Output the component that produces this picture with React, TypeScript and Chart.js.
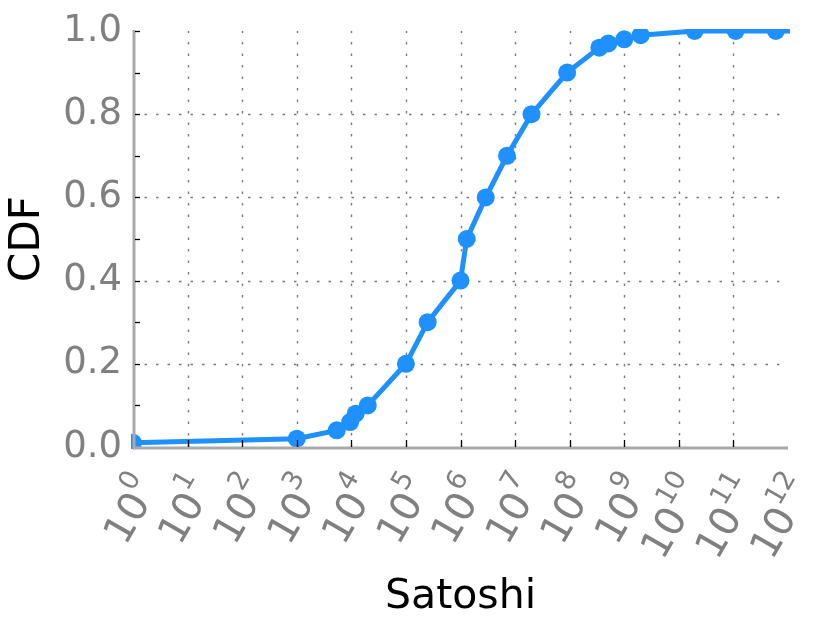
import React, { useEffect, useRef } from 'react';
import { Chart, registerables } from 'chart.js';

Chart.register(...registerables);

// Data (x in satoshi, log scale; y = CDF)
const satoshi = [
  1, 1e3, 5.4e3, 9.5e3, 1.2e4, 2.0e4, 1e5, 2.5e5, 1e6, 1.3e6, 2.9e6, 7.1e6,
  2.0e7, 9.0e7, 3.5e8, 5.1e8, 1.0e9, 2.0e9, 1.95e10, 1.1e11, 6.0e11, 2.0e12,
];
const cdf = [
  0.01, 0.02, 0.04, 0.06, 0.08, 0.1, 0.2, 0.3, 0.4, 0.5, 0.6, 0.7, 0.8, 0.9,
  0.96, 0.97, 0.98, 0.99, 1.0, 1.0, 1.0, 1.0,
];
const xExponents = [0, 1, 2, 3, 4, 5, 6, 7, 8, 9, 10, 11, 12];
const yMajorTicks = [0, 0.2, 0.4, 0.6, 0.8, 1.0];
const yMinorTicks = [0.1, 0.3, 0.5, 0.7, 0.9];
const xTitle = 'Satoshi';
const yTitle = 'CDF';

const FONT = '"DejaVu Sans", "Noto Sans", sans-serif';
const LINE_COLOR = '#1e90ff';
const TICK_GRAY = '#808080';

const decorPlugin = {
  id: 'decor',
  beforeDatasetsDraw(chart: any) {
    const { ctx, chartArea, scales } = chart;
    const x = scales.x;
    const y = scales.y;
    ctx.save();
    ctx.strokeStyle = '#7a7a7a';
    ctx.lineWidth = 1.4;
    ctx.setLineDash([2.5, 9]);
    xExponents.forEach((e) => {
      if (e === xExponents[0] || e === xExponents[xExponents.length - 1]) return;
      const px = Math.round(x.getPixelForValue(Math.pow(10, e))) + 0.5;
      ctx.beginPath();
      ctx.moveTo(px, chartArea.bottom);
      ctx.lineTo(px, chartArea.top);
      ctx.stroke();
    });
    yMajorTicks.forEach((v) => {
      if (v === yMajorTicks[0] || v === yMajorTicks[yMajorTicks.length - 1]) return;
      const py = Math.round(y.getPixelForValue(v)) + 0.5;
      ctx.beginPath();
      ctx.moveTo(chartArea.left, py);
      ctx.lineTo(chartArea.right, py);
      ctx.stroke();
    });
    ctx.restore();
  },
  afterDatasetsDraw(chart: any) {
    const { ctx, chartArea, scales } = chart;
    const x = scales.x;
    const y = scales.y;
    ctx.save();
    ctx.strokeStyle = '#aaaaaa';
    ctx.lineWidth = 3;
    ctx.beginPath();
    ctx.moveTo(chartArea.left + 1, chartArea.top - 1);
    ctx.lineTo(chartArea.left + 1, chartArea.bottom + 1);
    ctx.lineTo(chartArea.right, chartArea.bottom + 1);
    ctx.stroke();
    ctx.strokeStyle = '#000';
    ctx.lineWidth = 1.3;
    xExponents.forEach((e) => {
      if (e === xExponents[0] || e === xExponents[xExponents.length - 1]) return;
      const px = Math.round(x.getPixelForValue(Math.pow(10, e))) + 0.5;
      ctx.beginPath();
      ctx.moveTo(px, chartArea.bottom);
      ctx.lineTo(px, chartArea.bottom - 7);
      ctx.stroke();
    });
    [...yMajorTicks, ...yMinorTicks].forEach((v) => {
      if (v === 0) return;
      const py = Math.round(y.getPixelForValue(v)) + 0.5;
      ctx.beginPath();
      ctx.moveTo(chartArea.left + 2, py);
      ctx.lineTo(chartArea.left + 7, py);
      ctx.stroke();
    });
    ctx.restore();
  },
  afterDraw(chart: any) {
    const { ctx, chartArea, scales } = chart;
    const x = scales.x;
    ctx.save();
    ctx.fillStyle = TICK_GRAY;
    ctx.textAlign = 'left';
    ctx.textBaseline = 'alphabetic';
    const baseFont = `40px ${FONT}`;
    const expFont = `27px ${FONT}`;
    xExponents.forEach((e) => {
      const px = x.getPixelForValue(Math.pow(10, e));
      const base = '10';
      const exp = String(e);
      ctx.font = baseFont;
      const wb = ctx.measureText(base).width;
      ctx.font = expFont;
      const we = ctx.measureText(exp).width;
      const W = wb + we;
      ctx.save();
      ctx.translate(px - 9, chartArea.bottom + 20);
      ctx.rotate(-Math.PI / 3);
      ctx.font = baseFont;
      ctx.fillText(base, -W, 41);
      ctx.font = expFont;
      ctx.fillText(exp, -we, 20);
      ctx.restore();
    });
    ctx.restore();
  },
};

export default function App() {
  const canvasRef = useRef<HTMLCanvasElement | null>(null);

  useEffect(() => {
    const canvas = canvasRef.current;
    if (!canvas) return;
    const chart = new Chart(canvas, {
      type: 'line',
      data: {
        datasets: [
          {
            data: satoshi.map((v, i) => ({ x: v, y: cdf[i] })),
            borderColor: LINE_COLOR,
            backgroundColor: LINE_COLOR,
            pointBackgroundColor: LINE_COLOR,
            pointBorderColor: LINE_COLOR,
            borderWidth: 5,
            pointRadius: 9,
            pointBorderWidth: 0,
            pointHoverRadius: 9,
            tension: 0,
            fill: false,
            clip: 2,
          },
        ],
      },
      options: {
        animation: false,
        responsive: false,
        devicePixelRatio: 1,
        events: [],
        layout: { padding: { top: 31, right: 42, left: 0, bottom: 0 } },
        plugins: {
          legend: { display: false },
          tooltip: { enabled: false },
        },
        scales: {
          x: {
            type: 'logarithmic',
            position: 'bottom',
            min: 1,
            max: 1e12,
            grid: { display: false },
            border: { display: false },
            ticks: { display: false },
            title: {
              display: true,
              text: xTitle,
              color: '#000',
              font: { family: FONT, size: 41 },
              padding: { top: 0, bottom: 1 },
            },
            afterFit: (s: any) => {
              s.height = 176;
            },
          },
          y: {
            type: 'linear',
            min: 0,
            max: 1,
            grid: { display: false },
            border: { display: false },
            ticks: {
              stepSize: 0.2,
              color: TICK_GRAY,
              font: { family: FONT, size: 37 },
              padding: 3,
              callback: (v: any) => Number(v).toFixed(1),
            },
            title: {
              display: true,
              text: yTitle,
              color: '#000',
              font: { family: FONT, size: 42 },
              padding: { top: 3, bottom: 0 },
            },
            afterFit: (s: any) => {
              s.width = 133;
            },
          },
        },
      },
      plugins: [decorPlugin],
    } as any);
    return () => chart.destroy();
  }, []);

  return (
    <div style={{ position: 'fixed', left: 0, top: 0, width: 830, height: 623, background: '#fff' }}>
      <canvas ref={canvasRef} width={830} height={623} style={{ display: 'block', width: 830, height: 623 }} />
    </div>
  );
}
